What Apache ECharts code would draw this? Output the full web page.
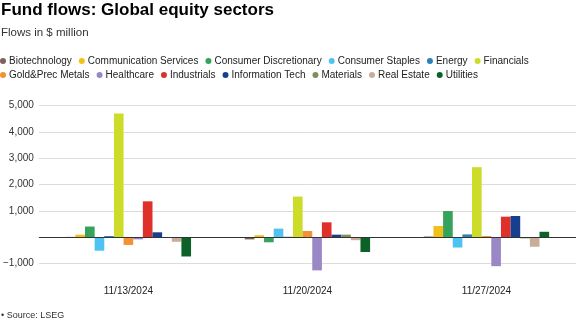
<!DOCTYPE html>
<html>
<head>
<meta charset="utf-8">
<script src="https://cdn.jsdelivr.net/npm/echarts@6/dist/echarts.min.js"></script>
<style>
html,body{margin:0;padding:0;background:#fff;}
#c{width:576px;height:324px;}
</style>
</head>
<body>
<div id="c"></div>
<script>
const categories = ['11/13/2024', '11/20/2024', '11/27/2024'];
const sectors = ['Biotechnology', 'Communication Services', 'Consumer Discretionary', 'Consumer Staples', 'Energy', 'Financials',
  'Gold&Prec Metals', 'Healthcare', 'Industrials', 'Information Tech', 'Materials', 'Real Estate', 'Utilities'];
const biotechnology = [5, -90, 20];
const communicationServices = [90, 70, 420];
const consumerDiscretionary = [400, -200, 990];
const consumerStaples = [-520, 320, -400];
const energy = [40, 10, 100];
const financials = [4700, 1540, 2660];
const goldPrecMetals = [-300, 230, 40];
const healthcare = [-90, -1270, -1110];
const industrials = [1360, 560, 775];
const informationTech = [180, 90, 800];
const materials = [-10, 90, -50];
const realEstate = [-180, -120, -370];
const utilities = [-740, -570, 200];
const yTicks = [-1000, 0, 1000, 2000, 3000, 4000, 5000];

const seriesValues = [biotechnology, communicationServices, consumerDiscretionary, consumerStaples, energy, financials,
  goldPrecMetals, healthcare, industrials, informationTech, materials, realEstate, utilities];
const colors = ['#7b6456', '#f2c019', '#35a35a', '#4ec3f2', '#2f80ba', '#cddc29',
  '#f39233', '#9a88c6', '#e0302a', '#173f8f', '#7e8f5c', '#c9ad9b', '#0c6128'];

const FONT = '"Liberation Sans", Arial, Helvetica, sans-serif';
const chart = echarts.init(document.getElementById('c'), null, {renderer: 'canvas'});

const series = sectors.map((name, i) => {
  const s = {
    name: name,
    type: 'bar',
    data: seriesValues[i],
    itemStyle: {color: colors[i]},
    barGap: '0%',
    barCategoryGap: '30%',
    clip: false,
    animation: false
  };
  if (i === 0) {
    s.markLine = {
      silent: true,
      symbol: ['none', 'none'],
      label: {show: false},
      lineStyle: {color: '#333', type: 'solid', width: 1},
      data: [{yAxis: 0}],
      animation: false,
      z: 10
    };
  }
  return s;
});

const legendCommon = {
  left: 0,
  icon: 'circle',
  itemWidth: 6,
  itemHeight: 6,
  itemGap: 7,
  padding: 0,
  selectedMode: false,
  textStyle: {fontSize: 10, color: '#222', fontFamily: FONT, padding: [0, 0, 0, -2]}
};

chart.setOption({
  animation: false,
  color: colors,
  title: [
    {text: 'Fund flows: Global equity sectors', left: 1, top: 2, padding: 0,
      textStyle: {fontSize: 17, fontWeight: 'bold', color: '#000', fontFamily: FONT}},
    {text: 'Flows in $ million', left: 1, top: 27, padding: 0,
      textStyle: {fontSize: 11.5, fontWeight: 'normal', color: '#333', fontFamily: FONT}},
    {text: '• Source: LSEG', left: 1, top: 311, padding: 0,
      textStyle: {fontSize: 9, fontWeight: 'normal', color: '#333', fontFamily: FONT}}
  ],
  legend: [
    Object.assign({}, legendCommon, {top: 56, data: sectors.slice(0, 6)}),
    Object.assign({}, legendCommon, {top: 70, data: sectors.slice(6)})
  ],
  grid: {left: 36, right: 0, top: 105.7, bottom: 60.7, containLabel: false},
  xAxis: {
    type: 'category',
    data: categories,
    axisLine: {show: false},
    axisTick: {show: false},
    axisLabel: {margin: 23, fontSize: 10, color: '#222', fontFamily: FONT}
  },
  yAxis: {
    type: 'value',
    min: yTicks[0],
    max: yTicks[yTicks.length - 1],
    interval: 1000,
    axisLine: {show: false},
    axisTick: {show: false},
    splitLine: {lineStyle: {color: '#dcdcdc', width: 1}},
    axisLabel: {
      margin: 5, fontSize: 10, color: '#333', fontFamily: FONT,
      formatter: v => v === 0 ? '' : (v < 0 ? '\u2212' : '') + Math.abs(v).toLocaleString('en-US')
    }
  },
  series: series
});
</script>
</body>
</html>
